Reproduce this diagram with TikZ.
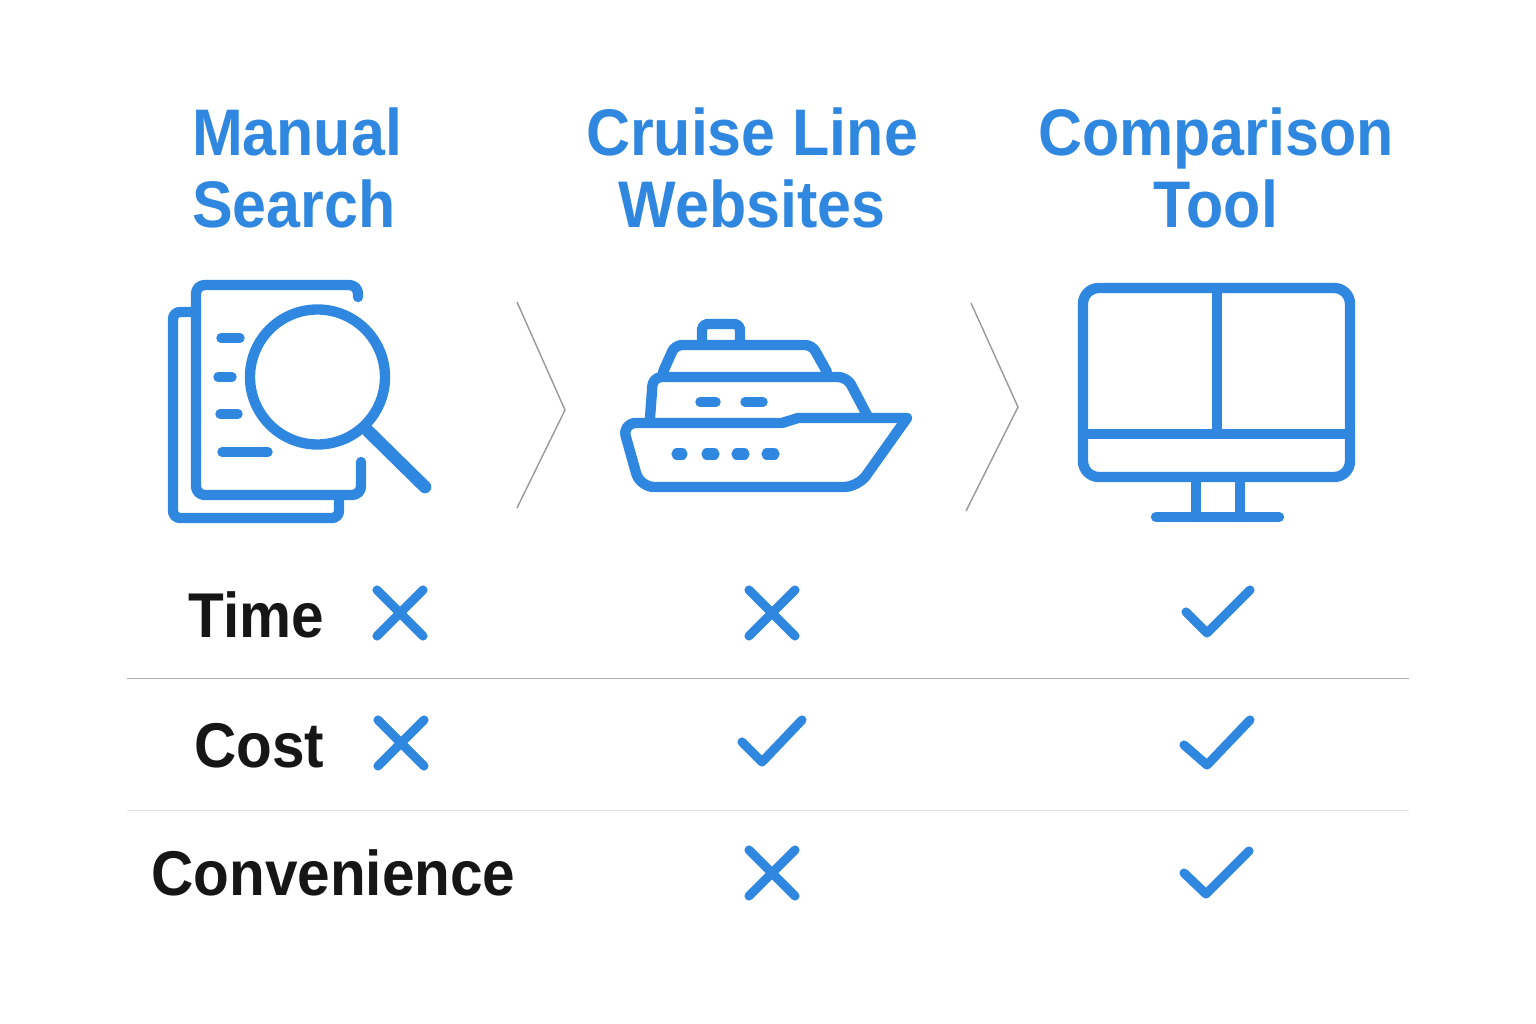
\documentclass[tikz,border=0pt]{standalone}
\usepackage{xcolor}
\usepackage{fontspec}
\setmainfont[FakeStretch=0.925]{Liberation Sans}
\definecolor{iconblue}{RGB}{47,135,224}
\definecolor{labelblack}{RGB}{22,22,22}
\tikzset{
	heading/.style={text=iconblue, font=\fontsize{37.5}{41}\selectfont\bfseries, inner sep=0pt},
	rowlabel/.style={text=labelblack, font=\fontsize{36}{40}\selectfont\bfseries, inner sep=0pt, anchor=base west},
	iconline/.style={draw=iconblue, line width=5.9pt, line cap=round, line join=round},
	iconthin/.style={iconline, line width=5.4pt},
	tickline/.style={draw=iconblue, line width=5.2pt, line cap=round, line join=round},
	chevron/.style={draw=black!40, line width=0.8pt}
}
\begin{document}
\begin{tikzpicture}[x=0.02cm, y=-0.02cm]
	\useasboundingbox (0,0) rectangle (1536,1024);

	\node[heading, align=left] (manual) at (297,168) {Manual\\Search};
	\node[heading, align=center] (cruise) at (752,168) {Cruise Line\\Websites};
	\node[heading, align=center] (compare) at (1216,168) {Comparison\\Tool};

	% documents with lens
	\draw[iconline, rounded corners=4pt] (196,312) -- (173,312) -- (173,518) -- (339,518) -- (339,495);
	\draw[iconline, rounded corners=5pt] (358,297) -- (358,285) -- (196,285) -- (196,495) -- (361,495) -- (361,462);
	\draw[iconthin] (221,338) -- (240,338);
	\draw[iconthin] (218,377) -- (232,377);
	\draw[iconthin] (220,414) -- (238,414);
	\draw[iconthin] (222,452) -- (268,452);
	\draw[iconline] (317.5,377) circle (67.5);
	\draw[iconline, line width=7.2pt] (368,431) -- (425,487);

	\draw[chevron] (517,302) -- (565,410) -- (517,508);

	% ship
	\draw[iconline, rounded corners=5pt] (650,418) -- (653,377) -- (847,377) -- (867,415);
	\draw[iconline, rounded corners=4pt] (663,372) -- (675,345) -- (812,345) -- (827,372);
	\draw[iconline, rounded corners=3pt] (702,342) -- (702,324) -- (740,324) -- (740,342);
	\draw[iconline, rounded corners=8pt] (782,423) -- (622,423) -- (640,487) -- (858,487) -- (907,418);
	\draw[iconline] (782,423) -- (798,418) -- (907,418);
	\draw[iconthin] (700,402) -- (716,402);
	\draw[iconthin] (745,402) -- (763,402);
	\foreach \px/\qx in {677/682, 707/714, 737/744, 767/774}
		\draw[iconline, line width=6.4pt] (\px,454) -- (\qx,454);

	\draw[chevron] (971,303) -- (1018,407) -- (966,511);

	% monitor
	\draw[iconline, rounded corners=9pt] (1083,288) rectangle (1350,477);
	\draw[iconline] (1217,288) -- (1217,434);
	\draw[iconline] (1083,434) -- (1350,434);
	\draw[iconline] (1196,477) -- (1196,517);
	\draw[iconline] (1240,477) -- (1240,517);
	\draw[iconline] (1156,517) -- (1279,517);

	\node[rowlabel] (time) at (188,637) {Time};
	\node[rowlabel] (cost) at (194,767) {Cost};
	\node[rowlabel] (convenience) at (151,895) {Convenience};

	\draw[draw=black!32, line width=0.45pt] (127,678) -- (1409,678);
	\draw[draw=black!10, line width=0.45pt] (127,810) -- (1409,810);

	% crosses
	\foreach \cx/\cy in {400/613, 772/613, 401/743, 772/873} {
		\draw[tickline] (\cx-23,\cy-23) -- (\cx+23,\cy+23);
		\draw[tickline] (\cx+23,\cy-23) -- (\cx-23,\cy+23);
	}
	% checks
	\draw[tickline] (1186,612) -- (1207,633) -- (1250,590);
	\draw[tickline] (742,742) -- (762,762) -- (802,720);
	\draw[tickline] (1184,745) -- (1207,765) -- (1250,720);
	\draw[tickline] (1184,873) -- (1206,894) -- (1249,851);
\end{tikzpicture}
\end{document}
